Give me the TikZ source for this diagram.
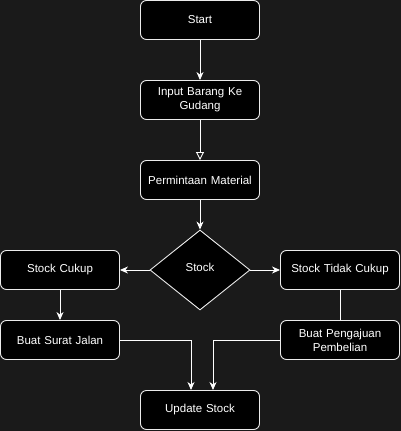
\documentclass[tikz,border=0pt]{standalone}
\usepackage{fontspec}
\setmainfont{Liberation Sans}
\usetikzlibrary{arrows.meta,shapes.geometric}
\definecolor{bg}{RGB}{26,26,26}
\definecolor{edge}{RGB}{235,235,235}
\begin{document}
\begin{tikzpicture}[x=1pt,y=-1pt,
  box/.style={draw=edge,fill=black,rounded corners=6pt,line width=0.9pt,minimum width=119pt,minimum height=39pt,inner sep=2pt,text=white,align=center,font=\fontsize{11.5}{14}\selectfont,text width=112pt},
  conn/.style={draw=white,line width=0.9pt},
  arr/.style={conn,-{Stealth[length=8pt,width=7pt,inset=2.5pt]}},
  oarr/.style={conn,-{Triangle[open,length=8pt,width=8pt]}}]
\fill[bg] (0,0) rectangle (401,431);
\useasboundingbox (0,0) rectangle (401,431);
\node[box] (start) at (200,20) {Start};
\node[box] (input) at (200,100) {Input Barang Ke\\Gudang};
\node[box] (minta) at (200,180) {Permintaan Material};
\node[draw=edge,fill=black,line width=0.9pt,diamond,minimum width=100pt,minimum height=80pt,inner sep=0pt] (stock) at (200,270) {};
\node[text=white,font=\fontsize{11.5}{14}\selectfont] (stocklbl) at (200,267) {Stock};
\node[box] (cukup) at (60,270) {Stock Cukup};
\node[box] (tidak) at (340,270) {Stock Tidak Cukup};
\node[box] (surat) at (60,340) {Buat Surat Jalan};
\node[box] (ajuan) at (340,340) {Buat Pengajuan\\Pembelian};
\node[box] (update) at (200,410) {Update Stock};
\coordinate (u1) at (191,390);
\coordinate (u2) at (213,390);
\draw[arr] (start.south) -- (input.north);
\draw[oarr] (input.south) -- (minta.north);
\draw[arr] (minta.south) -- (stock.north);
\draw[arr] (stock.west) -- (cukup.east);
\draw[arr] (stock.east) -- (tidak.west);
\draw[arr] (cukup.south) -- (surat.north);
\draw[conn] (tidak.south) -- (ajuan.north);
\draw[arr] (surat.east) -| (u1);
\draw[arr] (ajuan.west) -| (u2);
\end{tikzpicture}
\end{document}
